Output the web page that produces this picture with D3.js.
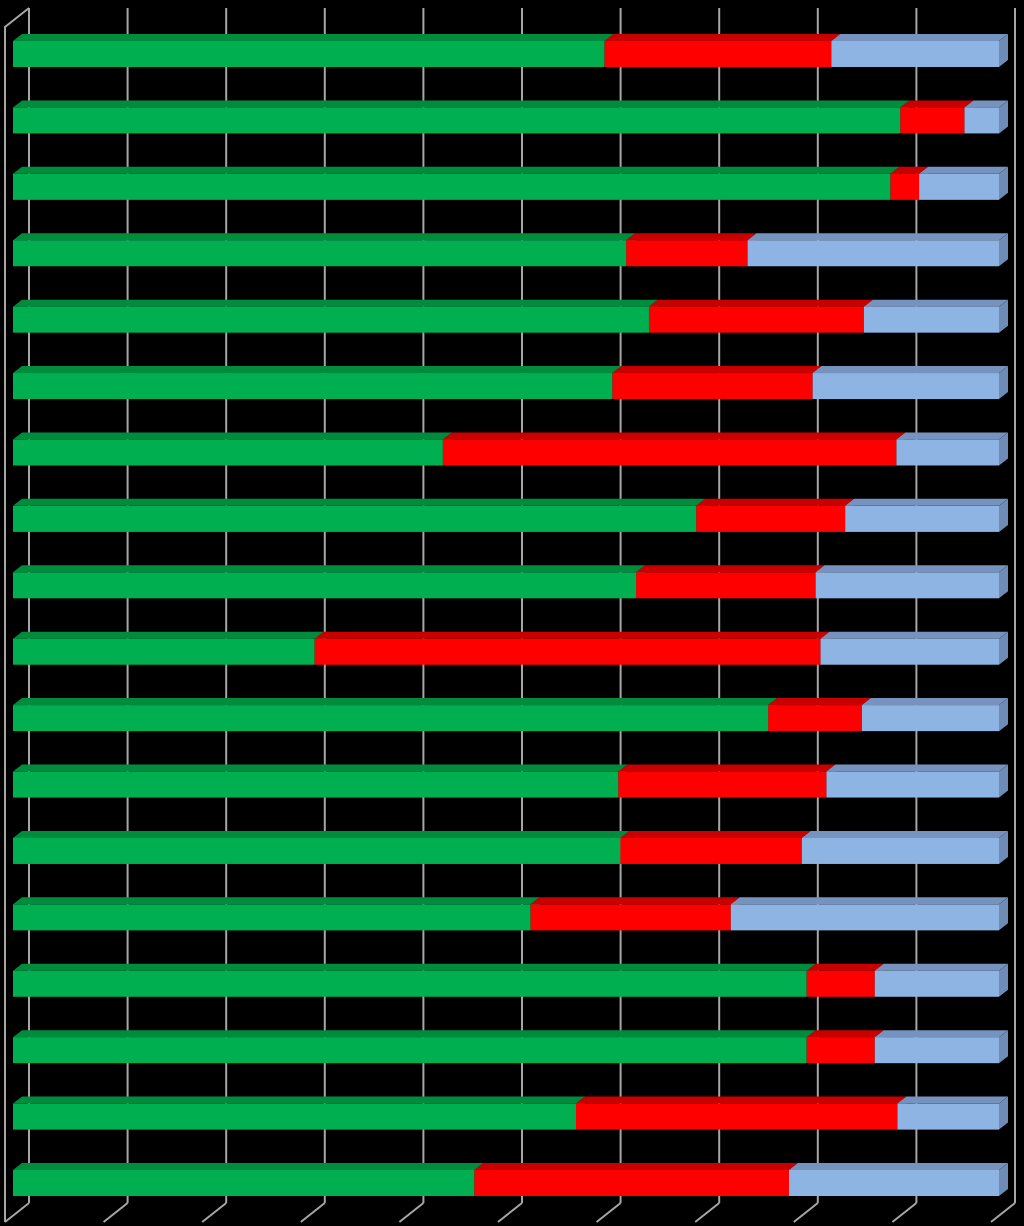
<!DOCTYPE html>
<html><head><meta charset="utf-8">
<script src="https://cdn.jsdelivr.net/npm/d3@7"></script>
<style>html,body{margin:0;padding:0;background:#000;}svg{display:block;}</style>
</head><body>
<script>
const categories = ["1","2","3","4","5","6","7","8","9","10","11","12","13","14","15","16","17","18"];
const greenValues = [60.0, 90.0, 89.0, 62.2, 64.5, 60.8, 43.6, 69.3, 63.2, 30.6, 76.6, 61.4, 61.6, 52.5, 80.5, 80.5, 57.1, 46.8];
const redValues   = [23.0,  6.5,  2.9, 12.3, 21.8, 20.3, 46.0, 15.1, 18.2, 51.3,  9.5, 21.1, 18.4, 20.3,  6.9,  6.9, 32.6, 31.9];
const blueValues  = [17.0,  3.5,  8.1, 25.5, 13.7, 18.9, 10.4, 15.6, 18.6, 18.1, 13.9, 17.5, 20.0, 27.2, 12.6, 12.6, 10.3, 21.3];
const tickValues = [0,10,20,30,40,50,60,70,80,90,100];

const W = 1024, H = 1226;
const svg = d3.select("body").append("svg").attr("width", W).attr("height", H).style("background","#000");

const x = d3.scaleLinear().domain([0,100]).range([13, 999]);
const y = d3.scaleBand().domain(categories).range([20.8, 1216.2]).paddingInner(0.608).paddingOuter(0.304);

// 3D geometry
const wallBackDx = 16, wallTopY = 8, wallBottomY = 1203;
const floorDx = -24, floorDy = 19;
const barDx = 9, barDy = -7;

const gridColor = "#a6a6a6";
const g = svg.append("g");
// back wall gridlines
tickValues.forEach(t => {
  const xb = x(t) + wallBackDx;
  g.append("line").attr("x1", xb).attr("x2", xb).attr("y1", wallTopY).attr("y2", wallBottomY)
    .attr("stroke", gridColor).attr("stroke-width", 2);
  // floor lines
  g.append("line").attr("x1", xb).attr("y1", wallBottomY).attr("x2", xb + floorDx).attr("y2", wallBottomY + floorDy)
    .attr("stroke", gridColor).attr("stroke-width", 2);
});
// left side wall front edge
const xl = x(0) + wallBackDx;
g.append("polyline")
  .attr("points", [[xl, wallTopY],[xl + floorDx, wallTopY + floorDy],[xl + floorDx, wallBottomY + floorDy]].map(p=>p.join(",")).join(" "))
  .attr("fill","none").attr("stroke", gridColor).attr("stroke-width", 2);

const series = [
  {values: greenValues, front: "#00b050", top: "#008c3c", side: "#007a35"},
  {values: redValues,   front: "#ff0000", top: "#c80000", side: "#b00000"},
  {values: blueValues,  front: "#8db4e2", top: "#7593be", side: "#6f8cb6"}
];

const bars = svg.append("g");
categories.forEach((c, i) => {
  let cum = 0;
  const y0 = y(c), h = y.bandwidth();
  series.forEach(s => {
    const v = s.values[i];
    const xa = x(cum), xb = x(cum + v);
    cum += v;
    const bg = bars.append("g");
    // side face
    bg.append("polygon").attr("points", [[xb,y0],[xb+barDx,y0+barDy],[xb+barDx,y0+h+barDy],[xb,y0+h]].map(p=>p.join(",")).join(" "))
      .attr("fill", s.side);
    // top face
    bg.append("polygon").attr("points", [[xa,y0],[xa+barDx,y0+barDy],[xb+barDx,y0+barDy],[xb,y0]].map(p=>p.join(",")).join(" "))
      .attr("fill", s.top);
    // front face
    bg.append("rect").attr("x", xa).attr("y", y0).attr("width", xb - xa).attr("height", h).attr("fill", s.front);
  });
});
</script>
</body></html>
